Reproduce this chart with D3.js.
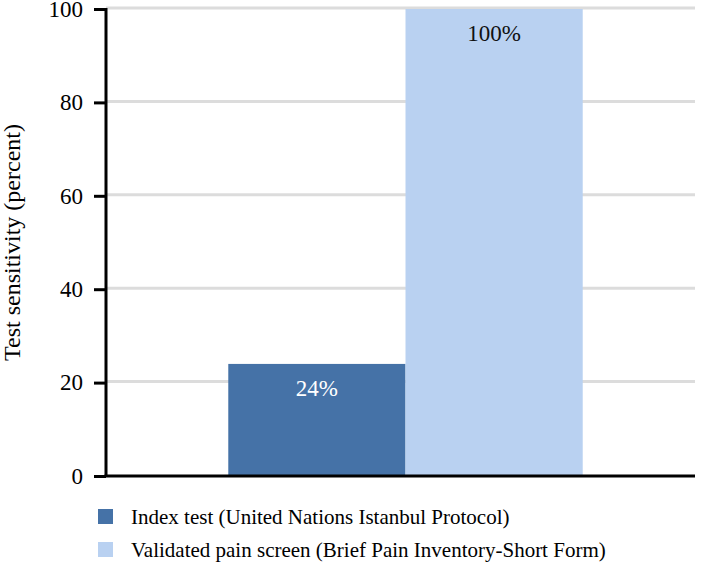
<!DOCTYPE html>
<html>
<head>
<meta charset="utf-8">
<script src="https://cdn.jsdelivr.net/npm/d3@7"></script>
</head>
<body style="margin:0">
<svg width="709" height="570" font-family="Liberation Serif"></svg>
<script>
// chart values
const categories = ["Index test (United Nations Istanbul Protocol)", "Validated pain screen (Brief Pain Inventory-Short Form)"];
const values = [24, 100];
const colors = ["#4572a7", "#b9d1f1"];
const labelColors = ["#fff", "#111"];
const yTicks = [0, 20, 40, 60, 80, 100];

const serif = "Times New Roman";
const svg = d3.select("svg");
const plotLeft = 106, plotRight = 705, plotTop = 9, plotBottom = 476;

const x = d3.scaleBand().domain(categories).range([plotLeft, plotRight]).paddingInner(0).paddingOuter(0.69);
const y = d3.scaleLinear().domain([0, 100]).range([plotBottom, plotTop]);

// set the serif face both ways so the label text can't fall back to sans
function setFont(sel, size) {
  sel.attr("font-family", serif)
    .attr("font-size", size)
    .style("font-family", `'${serif}'`)
    .style("font-size", size + "px");
}

// gridlines
svg.append("g").selectAll("line")
  .data(yTicks.filter(d => d > 0))
  .enter().append("line")
    .attr("x1", plotLeft).attr("x2", 695)
    .attr("y1", d => y(d) - 1).attr("y2", d => y(d) - 1)
    .attr("stroke", "#dcdcdc").attr("stroke-width", 3);

// bars
svg.append("g").selectAll("rect")
  .data(values)
  .enter().append("rect")
    .attr("x", (d, i) => x(categories[i]))
    .attr("y", d => y(d))
    .attr("width", x.bandwidth())
    .attr("height", d => plotBottom - y(d))
    .attr("fill", (d, i) => colors[i]);

// bar labels
const barLabels = svg.append("g").selectAll("text")
  .data(values)
  .enter().append("text")
    .attr("x", (d, i) => x(categories[i]) + x.bandwidth() / 2)
    .attr("y", d => y(d) + 32)
    .attr("text-anchor", "middle")
    .attr("fill", (d, i) => labelColors[i])
    .text(d => d + "%");
setFont(barLabels, 23);

// y axis
const yAxis = svg.append("g")
  .attr("transform", `translate(${plotLeft},0)`)
  .call(d3.axisLeft(y).tickValues(yTicks).tickSize(12).tickPadding(11));
yAxis.attr("font-family", serif).attr("font-size", 23);
yAxis.select(".domain").attr("stroke", "#000").attr("stroke-width", 3)
  .attr("d", `M0,${plotTop - 1}V${plotBottom}`);
yAxis.selectAll(".tick line").attr("stroke", "#000").attr("stroke-width", 3);
setFont(yAxis.selectAll(".tick text").attr("fill", "#000"), 23);

// x baseline
svg.append("line")
  .attr("x1", plotLeft - 1.5).attr("x2", 695)
  .attr("y1", plotBottom).attr("y2", plotBottom)
  .attr("stroke", "#000").attr("stroke-width", 3);

// y axis title
const title = svg.append("text")
  .attr("transform", `translate(20,${(plotTop + plotBottom) / 2}) rotate(-90)`)
  .attr("text-anchor", "middle")
  .text("Test sensitivity (percent)");
setFont(title, 24);

// legend
const legend = svg.append("g").selectAll("g")
  .data(categories)
  .enter().append("g")
    .attr("transform", (d, i) => `translate(98,${509 + i * 33})`);
legend.append("rect")
  .attr("width", 15).attr("height", 15)
  .attr("fill", (d, i) => colors[i]);
setFont(legend.append("text")
  .attr("x", 33).attr("y", 15)
  .text(d => d), 21);
</script>
</body>
</html>
